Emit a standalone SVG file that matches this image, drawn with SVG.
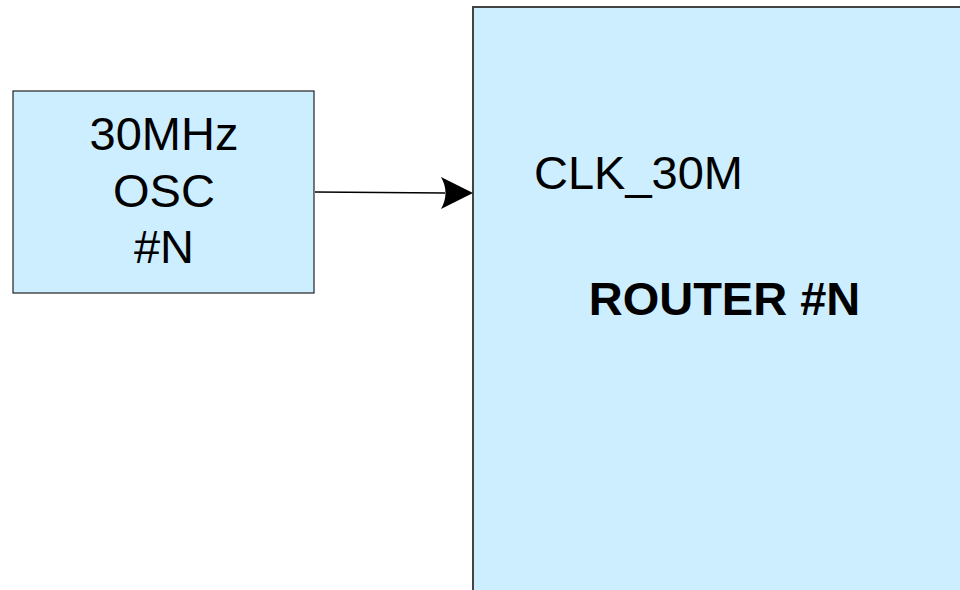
<svg xmlns="http://www.w3.org/2000/svg" width="960" height="590" viewBox="0 0 960 590">
<style>
.box{fill:#cceeff;}
.t{font-family:"Liberation Sans",Arial,sans-serif;fill:#000;}
</style>
<rect width="960" height="590" fill="#fff"/>
<g id="router">
<rect class="box" x="473" y="7" width="492" height="590" stroke="#444" stroke-width="2"/>
<text class="t" x="534" y="189" font-size="47">CLK_30M</text>
<text class="t" x="724.5" y="314.5" font-size="47" font-weight="bold" text-anchor="middle">ROUTER #N</text>
</g>
<g id="osc">
<rect class="box" x="13" y="91" width="301" height="202" stroke="#222" stroke-width="1.2"/>
<text class="t" font-size="47" text-anchor="middle"><tspan x="164" y="149.5">30MHz</tspan><tspan x="164" y="206.5">OSC</tspan><tspan x="164" y="262.5">#N</tspan></text>
</g>
<g id="connectors">
<path d="M315,192 L445,193" stroke="#000" stroke-width="1.5" fill="none"/>
<path d="M473,193 L441,177 Q450,193 441,209 Z" fill="#000"/>
</g>
</svg>
